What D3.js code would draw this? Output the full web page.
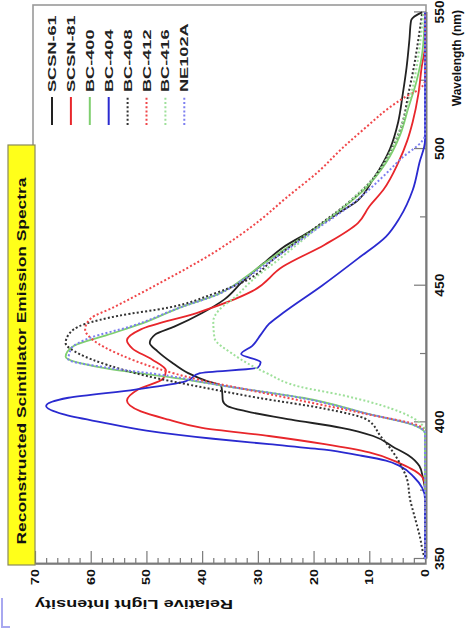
<!DOCTYPE html>
<html>
<head>
<meta charset="utf-8">
<script src="https://cdn.jsdelivr.net/npm/d3@7"></script>
<style>
  html, body { margin: 0; padding: 0; background: #fff; }
  svg { display: block; font-family: "Liberation Sans", Arial, Helvetica, sans-serif; }
</style>
</head>
<body>
<svg id="chart" width="469" height="628"></svg>
<script>
// Axis ticks
const wavelengthMajor = [350, 400, 450, 500, 550];
const wavelengthMinor = [375, 425, 475, 525];
const intensityMajor = [0, 10, 20, 30, 40, 50, 60, 70];
const intensityMinor = d3.range(0, 71, 2);

// Legend entries in drawing order
const seriesNames = ["SCSN-61", "SCSN-81", "BC-400", "BC-404", "BC-408", "BC-412", "BC-416", "NE102A"];
const seriesColors = ["#222222", "#e8262b", "#7fcf6f", "#2a2ad0", "#333333", "#f0474a", "#9ee09a", "#7d7ff0"];
const seriesDotted = [false, false, false, false, true, true, true, true];

// Emission spectra: [wavelength nm, relative intensity]
const scsn61 = [[350,0],[375,0],[380,0.4],[384,1],[388,3],[391,5.7],[395,9.3],[398,15],[401,24],[404,32],[406,35.5],[408,36.3],[411,36.4],[413.5,36.6],[415,39],[418,42.5],[422,45.5],[426,48],[429,49.4],[432,48.5],[435,45],[440,40],[445,36],[451,33],[454,31.4],[459,28.5],[464,25.5],[470,20.5],[476,16],[481,12.2],[489,9.3],[495,7.5],[500,6.3],[510,4.8],[520,4],[530,3.3],[540,2.8],[547,2.5],[549,1.5],[550,0.5]];
const scsn81 = [[350,0],[377,0],[380,0.5],[385,4.5],[389,10],[392,18],[395,28],[398,40],[401,46],[404,51],[408,53.5],[412,51.5],[416,47],[419,46.5],[423,49],[427,52.5],[430,53.5],[434,51],[440,41],[448,31],[457,25.5],[465,18],[473,12],[479,10],[485,7.5],[495,4.8],[503,3.2],[510,2.2],[520,1.2],[530,0.6],[538,0],[550,0]];
const bc400 = [[350,0],[396,0],[399,2],[403,10],[409,22],[413,35],[416,44],[420,58],[424,64.5],[428,63],[432,57],[436,51],[442,44],[447,37],[452,33],[458,29],[465,24],[475,17],[485,11],[495,7],[505,4.5],[515,3],[525,1.5],[535,0.5],[550,0]];
const bc404 = [[350,0],[372,0],[376,0.5],[380,2],[384,4.5],[386,7],[388,12],[390,18],[392,28],[394,38],[397,50],[400,58],[403,65],[406,68],[409,64],[412,52],[415,43],[418,40.4],[420,30],[422,29.5],[425,33],[428,31],[432,29.5],[436,28],[440,25.5],[450,18.5],[460,12],[468,7],[475,4.5],[485,2.2],[495,1],[503,0],[550,0]];
const bc408 = [[350,0],[352,0.3],[358,0.9],[365,1.8],[372,2.7],[379,3.2],[385,4.5],[389,5.7],[395,8],[401,10.4],[405,18],[409,30],[413,40.4],[417,50],[421,57],[425,62],[429,64.5],[432,64],[436,61],[439,55],[442,46],[447,38],[452,32],[460,27],[470,20.5],[480,14],[490,9],[500,6],[510,4],[520,3],[530,2],[540,1.2],[550,0.5]];
const bc412 = [[350,0],[397,0],[399,1.4],[403,10.4],[408,22.4],[412,32],[415.5,40.4],[420,48.5],[425,55],[430,59.5],[434,61],[438,60],[442,56],[451,47.6],[462,38],[474,29.6],[482,25],[492,19],[500,15],[509,10],[515,6.5],[519,3.6],[522,1],[525,0],[550,0]];
const bc416 = [[350,0],[397,0],[400,1],[405,6],[410,15],[413,22.4],[418,28.4],[425,34.5],[431,37.8],[437,38],[441,37],[446,34],[452,31],[460,26],[470,20],[480,14],[490,9],[500,6],[510,4],[520,2.5],[530,1.5],[540,0.8],[550,0.3]];
const ne102a = [[350,0],[396,0],[399,2],[403,10],[409,22.4],[414,38],[417,46],[420,57],[423,64],[427,63.5],[431,60],[435,53],[442,44],[447,37],[453,32],[460,27],[470,20],[480,13],[490,7.5],[497,4],[503,0.5],[505,0],[550,0]];

const seriesData = [scsn61, scsn81, bc400, bc404, bc408, bc412, bc416, ne102a];

// The chart is laid out in its own landscape frame (628 x 469) and turned
// a quarter turn counter-clockwise onto the portrait page.
const svg = d3.select("#chart");
svg.append("rect").attr("width", 469).attr("height", 628).attr("fill", "#fff");
const g = svg.append("g").attr("transform", "translate(0,628) rotate(-90)");

const x = d3.scaleLinear().domain([350, 550]).range([69, 615.6]);
const y = d3.scaleLinear().domain([0, 70]).range([425, 35]);

const axisColor = "#7a7a7a";

// Widen a text run along its baseline by a factor
function stretch(sel, factor) {
  sel.each(function () {
    const len = this.getComputedTextLength();
    d3.select(this).attr("textLength", len * factor).attr("lengthAdjust", "spacingAndGlyphs");
  });
}

// Plot frame
g.append("rect")
  .attr("x", 64).attr("y", 33).attr("width", 559).attr("height", 393)
  .attr("fill", "none").attr("stroke", "#999").attr("stroke-width", 1.6);

// Wavelength axis (ticks pointing into the plot)
const xAxis = g.append("g").attr("transform", "translate(0,426)")
  .call(d3.axisBottom(x).tickValues(wavelengthMajor).tickSizeInner(-12).tickSizeOuter(0).tickPadding(9));
g.append("g").attr("transform", "translate(0,426)")
  .call(d3.axisBottom(x).tickValues(wavelengthMinor).tickSizeInner(-6).tickSizeOuter(0).tickFormat(""));

// Intensity axis
const yAxis = g.append("g").attr("transform", "translate(64,0)")
  .call(d3.axisLeft(y).tickValues(intensityMajor).tickSizeInner(-13).tickSizeOuter(0).tickPadding(5));
g.append("g").attr("transform", "translate(64,0)")
  .call(d3.axisLeft(y).tickValues(intensityMinor.filter(v => v % 10 !== 0)).tickSizeInner(-6).tickSizeOuter(0).tickFormat(""));

g.selectAll(".domain").attr("stroke", axisColor).attr("stroke-width", 1.6);
g.selectAll(".tick line").attr("stroke", axisColor).attr("stroke-width", 1.2);
g.selectAll(".tick text").attr("fill", "#111").attr("font-weight", "bold").attr("font-size", 11);
xAxis.selectAll(".tick text").attr("font-size", 12);
stretch(xAxis.selectAll(".tick text"), 1.15);
stretch(yAxis.selectAll(".tick text"), 1.3);

// Spectra
const line = d3.line()
  .x(d => x(d[0]))
  .y(d => y(d[1]))
  .curve(d3.curveMonotoneX);

const plot = g.append("g");
seriesData.forEach((data, i) => {
  plot.append("path")
    .datum(data)
    .attr("d", line)
    .attr("fill", "none")
    .attr("stroke", seriesColors[i])
    .attr("stroke-width", seriesDotted[i] ? 2 : 1.8)
    .attr("stroke-dasharray", seriesDotted[i] ? "2,2.2" : null)
    .attr("stroke-linejoin", "round");
});

// Title box
g.append("rect")
  .attr("x", 63).attr("y", 8).attr("width", 420).attr("height", 27)
  .attr("fill", "#ffff1a").attr("stroke", "#8a8a5a").attr("stroke-width", 1.2);
g.append("text")
  .attr("x", 267).attr("y", 22).attr("text-anchor", "middle").attr("dominant-baseline", "central")
  .attr("font-size", 12).attr("font-weight", "bold").attr("fill", "#111")
  .attr("textLength", 367).attr("lengthAdjust", "spacingAndGlyphs")
  .text("Reconstructed Scintillator Emission Spectra");

// Legend
const legend = g.append("g");
seriesNames.forEach((name, i) => {
  const ly = 52 + i * 18.9;
  legend.append("line")
    .attr("x1", 503).attr("x2", 531).attr("y1", ly).attr("y2", ly)
    .attr("stroke", seriesColors[i]).attr("stroke-width", 2)
    .attr("stroke-dasharray", seriesDotted[i] ? "2,2.2" : null);
  legend.append("text")
    .attr("x", 536).attr("y", ly).attr("dominant-baseline", "central")
    .attr("font-size", 11).attr("font-weight", "bold").attr("fill", "#222")
    .text(name);
});
stretch(legend.selectAll("text"), 1.65);

// Axis titles
g.append("text")
  .attr("x", 618).attr("y", 457).attr("text-anchor", "end").attr("dominant-baseline", "central")
  .attr("font-size", 12).attr("font-weight", "bold").attr("fill", "#111")
  .text("Wavelength (nm)");
g.append("text")
  .attr("transform", "translate(24,35) rotate(-90)")
  .attr("text-anchor", "end").attr("dominant-baseline", "central")
  .attr("font-size", 13).attr("font-weight", "bold").attr("fill", "#111")
  .attr("textLength", 198).attr("lengthAdjust", "spacingAndGlyphs")
  .text("Relative Light Intensity");

// Corner bracket at the page edge
svg.append("path")
  .attr("d", "M10,627 L2,627 L2,598")
  .attr("fill", "none").attr("stroke", "#a8a8f0").attr("stroke-width", 2);
</script>
</body>
</html>
